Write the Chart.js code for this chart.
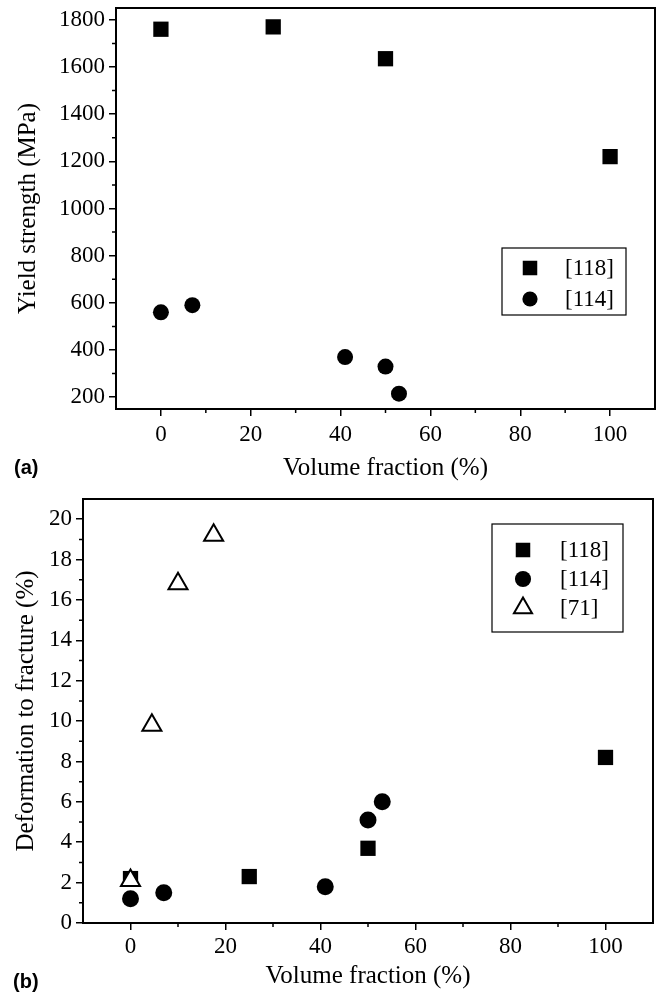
<!DOCTYPE html>
<html>
<head>
<meta charset="utf-8">
<script src="https://cdn.jsdelivr.net/npm/chart.js@4/dist/chart.umd.min.js"></script>
<style>
  body { margin: 0; background: #fff; width: 660px; height: 996px; position: relative; overflow: hidden; }
  canvas { position: absolute; left: 0; }
  .tag { position: absolute; font: bold 20px "Liberation Sans", Arial, sans-serif; color: #000; }
</style>
</head>
<body>
<canvas id="chartA" width="660" height="483" style="top:0"></canvas>
<canvas id="chartB" width="660" height="501" style="top:490px"></canvas>
<div class="tag" style="left:14px; top:456px">(a)</div>
<div class="tag" style="left:13px; top:970px">(b)</div>
<script>
// shared x axis
const xTicks = [0, 20, 40, 60, 80, 100];
const xMinor = [10, 30, 50, 70, 90];

// (a) yield strength
const yieldTicks = [200, 400, 600, 800, 1000, 1200, 1400, 1600, 1800];
const yieldMinor = [300, 500, 700, 900, 1100, 1300, 1500, 1700];
const yieldSquareX = [0, 25, 50, 100];
const yieldSquareY = [1760, 1770, 1635, 1220];
const yieldCircleX = [0, 7, 41, 50, 53];
const yieldCircleY = [560, 590, 370, 330, 215];

// (b) deformation to fracture
const defTicks = [0, 2, 4, 6, 8, 10, 12, 14, 16, 18, 20];
const defMinor = [1, 3, 5, 7, 9, 11, 13, 15, 17, 19];
const defSquareX = [0, 25, 50, 100];
const defSquareY = [2.2, 2.3, 3.7, 8.2];
const defCircleX = [0, 7, 41, 50, 53];
const defCircleY = [1.2, 1.5, 1.8, 5.1, 6.0];
const defTriangleX = [0, 4.5, 10, 17.5];
const defTriangleY = [2.1, 9.8, 16.8, 19.2];

const serif = '"Liberation Serif", "Times New Roman", serif';

const toPoints = (xs, ys) => xs.map((x, i) => ({ x: x, y: ys[i] }));

const squares = (label, xs, ys) => ({
  label: label, data: toPoints(xs, ys), order: 2,
  pointStyle: 'rect', pointRadius: 10.8, backgroundColor: '#000', borderColor: '#000', borderWidth: 0,
});
const circles = (label, xs, ys, r) => ({
  label: label, data: toPoints(xs, ys), order: 1,
  pointStyle: 'circle', pointRadius: r, backgroundColor: '#000', borderColor: '#000', borderWidth: 0,
});
const triangles = (label, xs, ys) => ({
  label: label, data: toPoints(xs, ys), order: 0,
  pointStyle: 'triangle', pointRadius: 11, backgroundColor: '#fff', borderColor: '#000', borderWidth: 2,
});

// frame box, minor ticks and boxed legend
const framePlugin = {
  id: 'frame',
  afterDraw(chart, args, opts) {
    const { ctx, chartArea: a, scales } = chart;
    ctx.save();
    ctx.strokeStyle = '#000';
    ctx.lineWidth = 2;
    ctx.strokeRect(a.left, a.top, a.right - a.left, a.bottom - a.top);

    ctx.lineWidth = 1.5;
    ctx.beginPath();
    opts.minorX.forEach((v) => {
      const px = scales.x.getPixelForValue(v);
      ctx.moveTo(px, a.bottom);
      ctx.lineTo(px, a.bottom + 4);
    });
    opts.minorY.forEach((v) => {
      const py = scales.y.getPixelForValue(v);
      ctx.moveTo(a.left, py);
      ctx.lineTo(a.left - 4, py);
    });
    ctx.stroke();

    const L = opts.legend;
    ctx.lineWidth = 1.2;
    ctx.strokeRect(L.x, L.y, L.w, L.h);
    ctx.font = '23px ' + serif;
    ctx.textBaseline = 'middle';
    ctx.textAlign = 'left';
    chart.data.datasets.forEach((ds, i) => {
      const y = L.first + i * L.gap;
      ctx.fillStyle = ds.backgroundColor;
      ctx.strokeStyle = ds.borderColor;
      ctx.lineWidth = ds.borderWidth;
      Chart.helpers.drawPoint(ctx, {
        pointStyle: ds.pointStyle, radius: ds.pointRadius * 0.95, borderWidth: ds.borderWidth, rotation: 0,
      }, L.mx, y);
      ctx.fillStyle = '#000';
      ctx.fillText(ds.label, L.tx, y + 1);
    });
    ctx.restore();
  },
};

const makeOptions = (cfg) => ({
  responsive: false,
  animation: false,
  events: [],
  layout: { autoPadding: false, padding: { top: cfg.top, right: cfg.right, left: 0, bottom: 0 } },
  plugins: {
    legend: { display: false },
    tooltip: { enabled: false },
    frame: cfg.frame,
  },
  scales: {
    x: {
      type: 'linear', min: -10, max: 110,
      afterBuildTicks: (s) => { s.ticks = xTicks.map((v) => ({ value: v })); },
      afterFit: (s) => { s.height = cfg.xHeight; s.paddingLeft = 0; s.paddingRight = 0; },
      border: { color: '#000', width: 2 },
      grid: { drawOnChartArea: false, color: '#000', lineWidth: 1.5, tickLength: 7 },
      ticks: { color: '#000', font: { family: serif, size: 23 }, padding: cfg.xPad, maxRotation: 0, callback: (v) => String(v) },
      title: { display: true, text: 'Volume fraction (%)', color: '#000', font: { family: serif, size: 25 }, padding: { top: 0, bottom: 0 } },
    },
    y: {
      type: 'linear', min: cfg.yMin, max: cfg.yMax,
      afterBuildTicks: (s) => { s.ticks = cfg.yTicks.map((v) => ({ value: v })); },
      afterFit: (s) => { s.width = cfg.yWidth; s.paddingTop = 0; s.paddingBottom = 0; },
      border: { color: '#000', width: 2 },
      grid: { drawOnChartArea: false, color: '#000', lineWidth: 1.5, tickLength: 7 },
      ticks: { color: '#000', font: { family: serif, size: 23 }, padding: 4, callback: (v) => String(v) },
      title: { display: true, text: cfg.yTitle, color: '#000', font: { family: serif, size: 25 }, padding: { top: cfg.yTitlePad, bottom: 0 } },
    },
  },
});

new Chart(document.getElementById('chartA'), {
  type: 'scatter',
  data: {
    datasets: [
      squares('[118]', yieldSquareX, yieldSquareY),
      circles('[114]', yieldCircleX, yieldCircleY, 8),
    ],
  },
  options: makeOptions({
    top: 8, right: 5, xHeight: 74, yWidth: 116, xPad: 5,
    yMin: 150, yMax: 1850, yTicks: yieldTicks, yTitle: 'Yield strength (MPa)', yTitlePad: 13,
    frame: {
      minorX: xMinor, minorY: yieldMinor,
      legend: { x: 502, y: 248, w: 124, h: 67, first: 268, gap: 31, mx: 530, tx: 565 },
    },
  }),
  plugins: [framePlugin],
});

new Chart(document.getElementById('chartB'), {
  type: 'scatter',
  data: {
    datasets: [
      squares('[118]', defSquareX, defSquareY),
      circles('[114]', defCircleX, defCircleY, 8.5),
      triangles('[71]', defTriangleX, defTriangleY),
    ],
  },
  options: makeOptions({
    top: 9, right: 7, xHeight: 68, yWidth: 83, xPad: 3,
    yMin: 0, yMax: 21, yTicks: defTicks, yTitle: 'Deformation to fracture (%)', yTitlePad: 11,
    frame: {
      minorX: xMinor, minorY: defMinor,
      legend: { x: 492, y: 34, w: 131, h: 108, first: 60, gap: 29, mx: 523, tx: 560 },
    },
  }),
  plugins: [framePlugin],
});
</script>
</body>
</html>
